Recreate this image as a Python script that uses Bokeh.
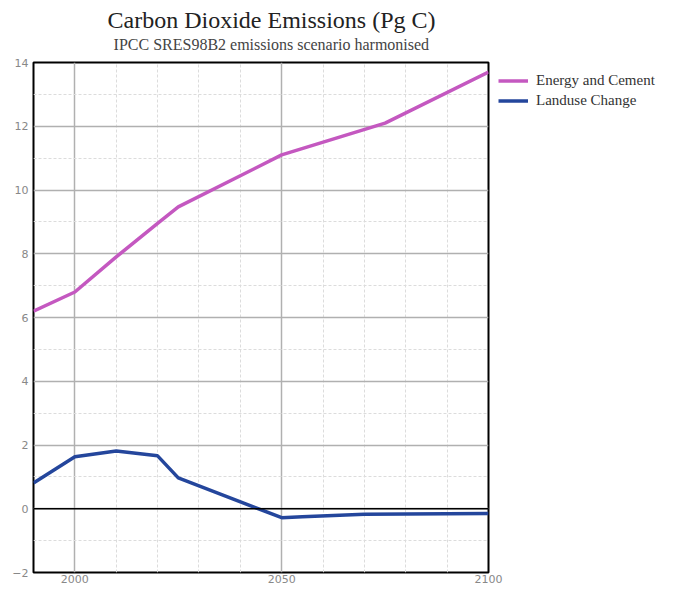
from bokeh.plotting import figure
from bokeh.models import Range1d, FixedTicker, Span, Legend, LegendItem, LinearAxis
from bokeh.embed import file_html
from bokeh.resources import INLINE

# ---- data ----
energy_years = [1990, 2000, 2010, 2020, 2025, 2050, 2075, 2100]
energy_values = [6.2, 6.8, 7.9, 8.95, 9.47, 11.1, 12.1, 13.7]

landuse_years = [1990, 2000, 2010, 2020, 2025, 2050, 2055, 2070, 2100]
landuse_values = [0.81, 1.63, 1.81, 1.66, 0.97, -0.28, -0.25, -0.17, -0.15]

y_major_ticks = [-2, 0, 2, 4, 6, 8, 10, 12, 14]
y_minor_ticks = [-1, 1, 3, 5, 7, 9, 11, 13]
x_major_ticks = [2000, 2050, 2100]
x_minor_ticks = [2010, 2020, 2030, 2040, 2060, 2070, 2080, 2090]

series_names = ["Energy and Cement", "Landuse Change"]
series_colors = ["#c458c0", "#24469c"]
title_text = "Carbon Dioxide Emissions (Pg C)"
subtitle_text = "IPCC SRES98B2 emissions scenario harmonised"
subtitle_anchor = 2047.5  # horizontal anchor of the subtitle (layout only)

p = figure(frame_width=455, frame_height=510, output_backend="svg", toolbar_location=None,
           x_range=Range1d(1990, 2100), y_range=Range1d(-2, 14),
           min_border_left=33, min_border_right=192, min_border_top=62,
           min_border_bottom=18)

p.background_fill_color = "white"
p.border_fill_color = "white"
p.outline_line_color = "black"
p.outline_line_width = 2

for ax in (p.xaxis[0], p.yaxis[0]):
    ax.axis_line_color = None
    ax.major_tick_line_color = None
    ax.minor_tick_line_color = None
    ax.major_tick_out = 0
    ax.minor_tick_out = 0
    ax.major_label_text_font = "DejaVu Sans"
    ax.major_label_text_font_size = "11px"
    ax.major_label_text_color = "#888888"

p.xaxis.ticker = FixedTicker(ticks=x_major_ticks, minor_ticks=x_minor_ticks)
p.yaxis.ticker = FixedTicker(ticks=y_major_ticks, minor_ticks=y_minor_ticks)
p.xaxis.major_label_standoff = 2
p.yaxis.major_label_standoff = 5

p.xgrid.grid_line_color = "#b0b0b0"
p.xgrid.grid_line_width = 1.5
p.xgrid.minor_grid_line_color = "#dcdcdc"
p.xgrid.minor_grid_line_dash = "3 2"
p.ygrid.grid_line_color = "#b0b0b0"
p.ygrid.grid_line_width = 1.5
p.ygrid.minor_grid_line_color = "#dcdcdc"
p.ygrid.minor_grid_line_dash = "3 2"

p.add_layout(Span(location=0, dimension="width", line_color="black", line_width=1.5))

r1 = p.line(energy_years, energy_values, line_color=series_colors[0], line_width=3.5)
r2 = p.line(landuse_years, landuse_values, line_color=series_colors[1], line_width=3.5)

# subtitle as the single tick label of an empty axis above the frame
sub_axis = LinearAxis(ticker=FixedTicker(ticks=[subtitle_anchor]),
                      major_label_overrides={subtitle_anchor: subtitle_text},
                      axis_line_color=None, major_tick_line_color=None,
                      minor_tick_line_color=None, major_tick_out=0, minor_tick_out=0,
                      major_label_standoff=10, major_label_text_font="Liberation Serif",
                      major_label_text_font_size="16px", major_label_text_color="#444444")
p.add_layout(sub_axis, "above")

p.title.text = title_text
p.title.text_font = "Liberation Serif"
p.title.text_font_size = "24px"
p.title.text_font_style = "normal"
p.title.text_color = "#222222"
p.title.align = "left"
p.title.offset = 74
p.title.standoff = 0

legend = Legend(items=[LegendItem(label=series_names[0], renderers=[r1]),
                       LegendItem(label=series_names[1], renderers=[r2])],
                location="top_left", margin=10, padding=8, spacing=3,
                glyph_width=30, glyph_height=13, label_height=13, label_standoff=8,
                label_text_font="Liberation Serif", label_text_font_size="15px",
                label_text_color="#333333", border_line_color=None,
                background_fill_alpha=0)
p.add_layout(legend, "right")

open("out.html", "w").write(file_html(p, INLINE))
